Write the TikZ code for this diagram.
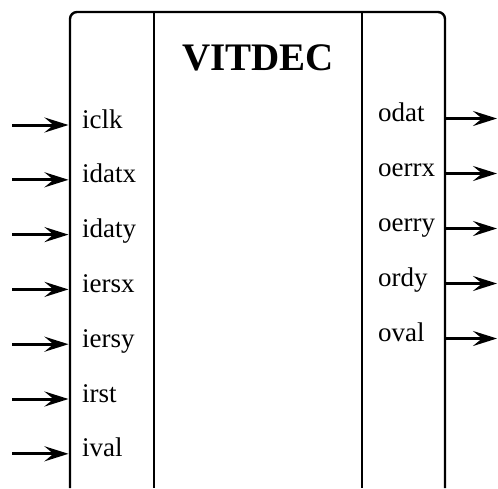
\documentclass[tikz,border=0pt]{standalone}
\usepackage{fontspec}
\setmainfont{Liberation Serif}
\usetikzlibrary{positioning, arrows.meta}

\begin{document}
\begin{tikzpicture}[
    x=1pt, y=-1pt,
    pin/.style={anchor=west, inner sep=0pt, text height=0.7em, text depth=0.07em,
      font=\fontsize{27}{30}\selectfont},
    sig/.style={line width=3pt, -{Stealth[length=24pt, width=15pt, inset=9pt]}},
    wall/.style={line width=2.4pt}]

  \useasboundingbox (0,0) rectangle (498,488);

  % block
  \coordinate (blk-nw) at (70,12);
  \coordinate (blk-ne) at (445,12);
  \coordinate (blk-sw) at (70,488);
  \coordinate (blk-se) at (445,488);
  \coordinate (div-l) at (154,12);
  \coordinate (div-r) at (362,12);
  \draw[wall, rounded corners=7pt] (blk-sw) -- (blk-nw) -- (blk-ne) -- (blk-se);
  \draw[wall] (div-l) -- (div-l |- blk-sw);
  \draw[wall] (div-r) -- (div-r |- blk-se);
  \node[anchor=base, inner sep=0pt, font=\fontsize{39}{42}\selectfont\bfseries]
    (title) at (258,70) {VITDEC};

  % inputs
  \coordinate (src) at (12,0);
  \node[pin] at (82,125) (iclk) {iclk};
  \node[pin, below=54.8pt of iclk.west, anchor=west] (idatx) {idatx};
  \node[pin, below=54.8pt of idatx.west, anchor=west] (idaty) {idaty};
  \node[pin, below=54.8pt of idaty.west, anchor=west] (iersx) {iersx};
  \node[pin, below=54.8pt of iersx.west, anchor=west] (iersy) {iersy};
  \node[pin, below=54.8pt of iersy.west, anchor=west] (irst) {irst};
  \node[pin, below=54.8pt of irst.west, anchor=west] (ival) {ival};

  \draw[sig, shorten >=1.5pt] (iclk -| src) -- (iclk -| blk-nw);
  \draw[sig, shorten >=1.5pt] (idatx -| src) -- (idatx -| blk-nw);
  \draw[sig, shorten >=1.5pt] (idaty -| src) -- (idaty -| blk-nw);
  \draw[sig, shorten >=1.5pt] (iersx -| src) -- (iersx -| blk-nw);
  \draw[sig, shorten >=1.5pt] (iersy -| src) -- (iersy -| blk-nw);
  \draw[sig, shorten >=1.5pt] (irst -| src) -- (irst -| blk-nw);
  \draw[sig, shorten >=1.5pt] (ival -| src) -- (ival -| blk-nw);

  % outputs
  \coordinate (dst) at (497,0);
  \node[pin] at (378,118.5) (odat) {odat};
  \node[pin, below=55pt of odat.west, anchor=west] (oerrx) {oerrx};
  \node[pin, below=55pt of oerrx.west, anchor=west] (oerry) {oerry};
  \node[pin, below=55pt of oerry.west, anchor=west] (ordy) {ordy};
  \node[pin, below=55pt of ordy.west, anchor=west] (oval) {oval};

  \draw[sig] (odat -| blk-ne) -- (odat -| dst);
  \draw[sig] (oerrx -| blk-ne) -- (oerrx -| dst);
  \draw[sig] (oerry -| blk-ne) -- (oerry -| dst);
  \draw[sig] (ordy -| blk-ne) -- (ordy -| dst);
  \draw[sig] (oval -| blk-ne) -- (oval -| dst);
\end{tikzpicture}
\end{document}
